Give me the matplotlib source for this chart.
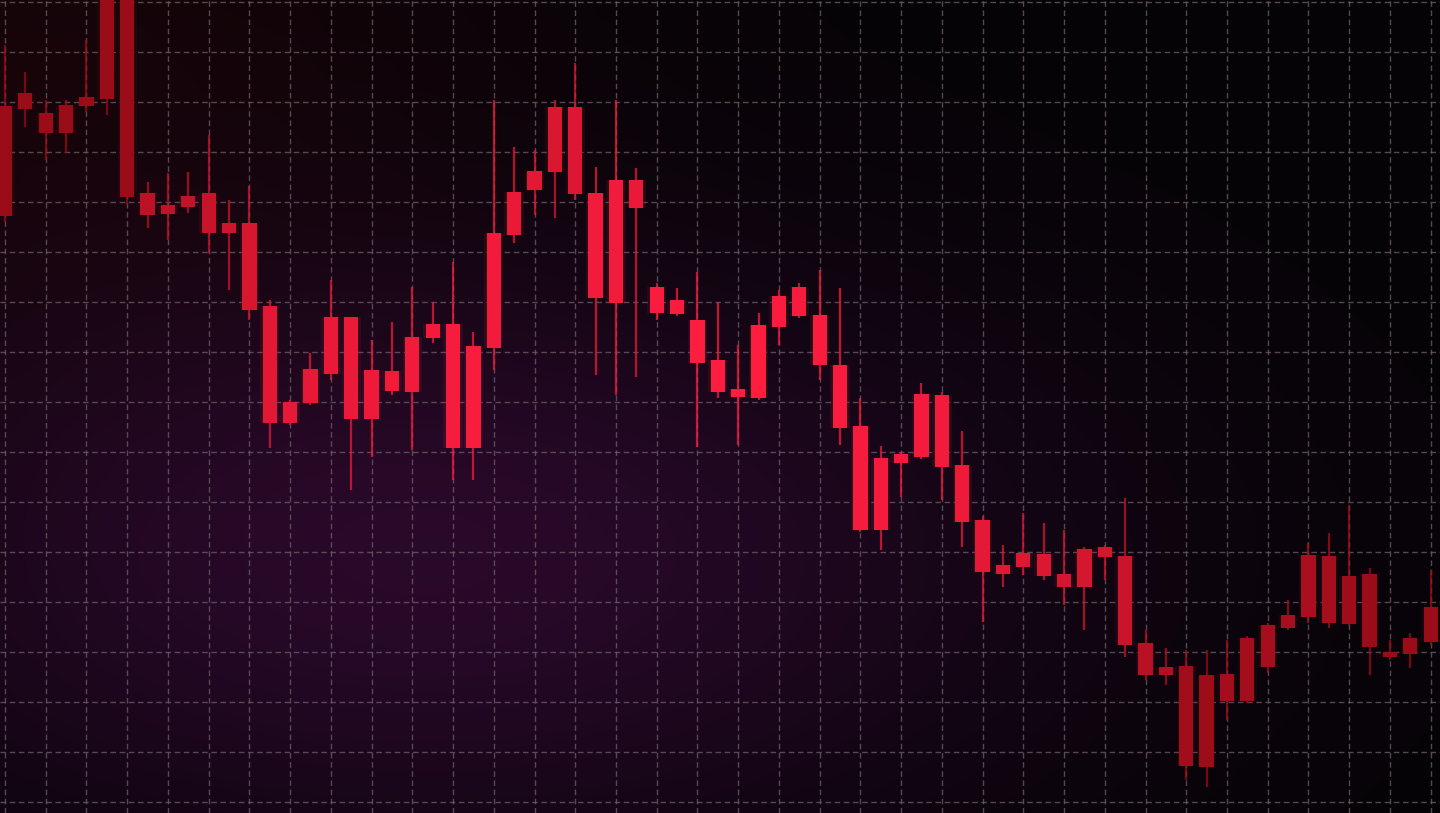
import numpy as np
import matplotlib
matplotlib.use("Agg")
import matplotlib.pyplot as plt
from matplotlib.colors import to_rgb

# -----------------------------
# Candle data (all candles drawn red)
# -----------------------------
opens = [239.2, 241.8, 237.8, 239.4, 241.0, 264.4, 264.4, 221.8, 219.4, 221.2,
         221.8, 215.8, 215.8, 199.2, 180.0, 186.6, 197.0, 197.0, 186.4, 186.2,
         193.0, 195.6, 195.6, 191.2, 213.8, 222.0, 226.2, 239.0, 239.0, 221.8,
         224.4, 224.4, 203.0, 200.4, 196.4, 188.4, 182.6, 195.4, 201.2, 203.0,
         197.4, 187.4, 175.2, 168.8, 169.6, 181.6, 181.4, 167.4, 156.4, 147.4,
         149.8, 149.6, 145.6, 150.6, 151.0, 149.2, 131.8, 127.0, 127.2, 125.4,
         125.6, 132.8, 135.4, 137.4, 149.4, 149.2, 145.2, 145.6, 130.0, 132.8,
         139.0]
closes = [217.2, 238.6, 233.8, 233.8, 239.2, 240.6, 221.0, 217.4, 217.6, 219.0,
          213.8, 213.8, 198.4, 175.8, 175.8, 179.8, 185.6, 176.6, 176.6, 182.2,
          182.0, 192.8, 170.8, 170.8, 190.8, 213.4, 222.4, 226.0, 221.6, 200.8,
          199.8, 218.8, 197.8, 197.6, 187.8, 182.0, 181.0, 180.8, 195.0, 197.2,
          187.4, 174.8, 154.4, 154.4, 167.8, 169.0, 167.0, 156.0, 146.0, 145.6,
          147.0, 145.2, 143.0, 143.0, 149.0, 131.4, 125.4, 125.4, 107.2, 107.0,
          120.2, 120.2, 127.0, 134.8, 137.0, 135.8, 135.6, 131.0, 129.0, 129.6,
          132.0]
highs = [251.4, 246.0, 240.4, 240.4, 252.4, 264.4, 264.4, 224.0, 225.8, 226.0,
         233.4, 220.4, 223.2, 200.4, 180.4, 189.8, 204.4, 197.0, 192.4, 196.0,
         203.0, 200.0, 208.0, 194.0, 240.4, 231.0, 230.4, 240.4, 247.8, 227.0,
         240.4, 226.8, 203.8, 202.8, 206.0, 200.0, 191.4, 197.8, 202.4, 203.8,
         206.4, 202.8, 180.8, 171.2, 170.0, 183.8, 182.0, 174.2, 157.2, 151.4,
         157.8, 155.8, 154.4, 151.0, 151.4, 160.8, 134.4, 130.8, 130.4, 130.4,
         132.4, 133.2, 135.8, 140.4, 151.8, 153.8, 159.4, 146.8, 132.4, 133.8,
         146.4]
lows = [216.0, 235.0, 228.4, 229.8, 238.0, 237.4, 219.4, 214.8, 212.4, 217.8,
        209.8, 202.4, 196.4, 170.8, 175.4, 179.4, 184.4, 162.4, 169.0, 181.4,
        170.4, 191.8, 164.4, 164.4, 186.4, 211.8, 217.4, 216.8, 220.4, 185.4,
        181.4, 185.0, 196.4, 197.2, 171.0, 180.8, 171.4, 180.4, 191.4, 196.8,
        184.4, 171.4, 154.0, 150.4, 161.0, 168.6, 160.4, 151.0, 136.0, 143.0,
        145.4, 144.4, 139.4, 134.4, 144.4, 129.0, 124.4, 123.4, 104.4, 103.0,
        116.4, 119.8, 125.8, 134.4, 135.8, 134.8, 135.2, 125.4, 128.4, 126.8,
        131.4]

grid_x = np.arange(0, 71, 2)
grid_y = np.arange(100, 261, 10)

# -----------------------------
# Figure / background
# -----------------------------
fig = plt.figure(figsize=(14.4, 8.13), dpi=100)
ax = fig.add_axes([0, 0, 1, 1])
x0, x1 = -0.2455, 70.46
y0, y1 = 97.8, 260.4
ax.set_xlim(x0, x1)
ax.set_ylim(y0, y1)

H, W = 813, 1440
yy, xx = np.mgrid[0:H, 0:W]


def blob(cx, cy, rx, ry):
    return np.exp(-(((xx - cx) / rx) ** 2 + ((yy - cy) / ry) ** 2))


bg = np.zeros((H, W, 3))
bg += np.array([5, 3, 6]) / 255
bg += np.array([16, 1, 2])[None, None, :] / 255 * blob(0, 40, 500, 330)[..., None]
bg += np.array([36, 6, 36])[None, None, :] / 255 * blob(430, 560, 620, 300)[..., None]
bg = np.clip(bg, 0, 1)
ax.imshow(bg, extent=(x0, x1, y0, y1), aspect="auto", zorder=0, origin="upper")

# -----------------------------
# Grid
# -----------------------------
ax.set_xticks(grid_x)
ax.set_yticks(grid_y)
ax.set_axisbelow(True)
ax.grid(True, color="#6e5f6a", linestyle=(0, (4, 2.6)), linewidth=1.0, alpha=0.75)
ax.tick_params(length=0, labelbottom=False, labelleft=False)
for s in ax.spines.values():
    s.set_visible(False)

# -----------------------------
# Candles (brighter in the middle, darker to the edges)
# -----------------------------
idx = np.arange(len(opens))
opens = np.array(opens)
closes = np.array(closes)
highs = np.array(highs)
lows = np.array(lows)

bright = np.array(to_rgb("#ff1d40"))
dark = np.array(to_rgb("#9a0c18"))
mid = (opens + closes) / 2
dx = (idx - 33) / 36
dy = (mid - 180) / 85
f = np.clip(1 - (dx ** 2 + dy ** 2) * 0.9, 0, 1)
colors = [tuple(dark + (bright - dark) * v) for v in f]

# soft glow
ax.bar(idx, closes - opens, bottom=opens, width=0.95, color=colors, alpha=0.10, zorder=2)
ax.vlines(idx, lows, highs, colors=colors, linewidth=1.6, alpha=0.75, zorder=3)
ax.bar(idx, closes - opens, bottom=opens, width=0.7, color=colors, zorder=4)

fig.savefig("out.png", dpi=100)
